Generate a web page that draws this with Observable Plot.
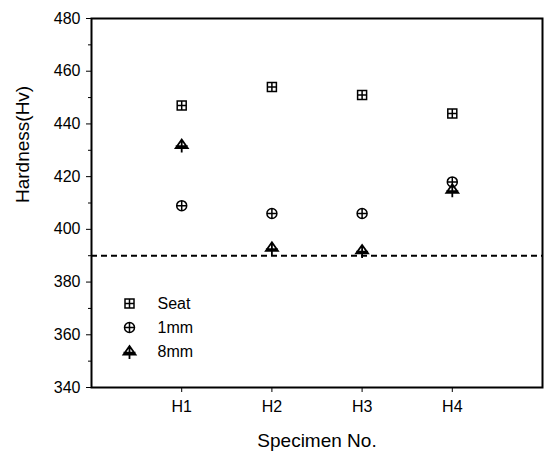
<!DOCTYPE html>
<html><head><meta charset="utf-8">
<script src="https://cdn.jsdelivr.net/npm/d3@7"></script>
<script src="https://cdn.jsdelivr.net/npm/@observablehq/plot@0.6"></script>
<style>body{margin:0;background:#fff}</style>
</head><body><div id="chart"></div>
<script>
const specimens = ["H1", "H2", "H3", "H4"];
const seriesNames = ["Seat", "1mm", "8mm"];
const seat = [447, 454, 451, 444];
const mm1 = [409, 406, 406, 418];
const mm8 = [432, 393, 392, 415];
const threshold = 390;
const yTicks = [340, 360, 380, 400, 420, 440, 460, 480];
const yMinor = [350, 370, 390, 410, 430, 450, 470];

const sqSym = {draw(ctx, size) {
  const r = Math.sqrt(size / Math.PI), h = 0.9 * r;
  ctx.rect(-h, -h, 2 * h, 2 * h);
  ctx.moveTo(-h, 0); ctx.lineTo(h, 0);
  ctx.moveTo(0, -h); ctx.lineTo(0, h);
}};
const circSym = {draw(ctx, size) {
  const r = Math.sqrt(size / Math.PI);
  ctx.moveTo(r, 0); ctx.arc(0, 0, r, 0, 2 * Math.PI);
  ctx.moveTo(-r, 0); ctx.lineTo(r, 0);
  ctx.moveTo(0, -r); ctx.lineTo(0, r);
}};
const triSym = {draw(ctx, size) {
  const r = Math.sqrt(size / Math.PI);
  ctx.moveTo(0, -1.1 * r); ctx.lineTo(1.2 * r, 0.6 * r); ctx.lineTo(-1.2 * r, 0.6 * r); ctx.closePath();
  ctx.moveTo(0, -1.1 * r); ctx.lineTo(0, 1.5 * r);
  ctx.moveTo(-1.2 * r, 0.25 * r); ctx.lineTo(1.2 * r, 0.25 * r);
}};
const syms = [sqSym, circSym, triSym];
const symWidths = [1.5, 1.5, 1.8];
const seriesValues = [seat, mm1, mm8];
const legendDy = [-84, -60, -36];

const marks = [
  Plot.ruleY([threshold], {strokeDasharray: "6,4", strokeWidth: 2}),
  Plot.axisY(yMinor, {tickSize: 3, tickFormat: () => "", label: null}),
  Plot.axisY(yTicks, {tickSize: 5, tickPadding: 6, fontSize: 16, label: null}),
  Plot.axisX([1, 2, 3, 4], {tickFormat: d => specimens[d - 1], tickSize: 5, tickPadding: 8, fontSize: 16, label: null}),
  Plot.text(["Hardness(Hv)"], {frameAnchor: "left", rotate: -90, dx: -69, fontSize: 19}),
  Plot.text(["Specimen No."], {frameAnchor: "bottom", dy: 53, lineAnchor: "middle", fontSize: 19}),
  Plot.frame({strokeWidth: 2})
];
seriesValues.forEach((vals, s) => {
  marks.push(Plot.dot(specimens, {x: (d, i) => i + 1, y: (d, i) => vals[i], symbol: syms[s], r: 5, stroke: "black", strokeWidth: symWidths[s]}));
  marks.push(Plot.dot([seriesNames[s]], {frameAnchor: "bottom-left", dx: 38, dy: legendDy[s], symbol: syms[s], r: 5, stroke: "black", strokeWidth: symWidths[s]}));
  marks.push(Plot.text([seriesNames[s]], {frameAnchor: "bottom-left", dx: 66, dy: legendDy[s], textAnchor: "start", lineAnchor: "middle", fontSize: 16}));
});

const chart = Plot.plot({
  width: 547, height: 454,
  marginLeft: 91, marginRight: 5, marginTop: 18, marginBottom: 67,
  x: {domain: [0, 5]},
  y: {domain: [340, 480]},
  style: {fontFamily: "'Liberation Sans', Arial, sans-serif", background: "white", color: "black"},
  marks
});
document.getElementById("chart").appendChild(chart);
</script>
</body></html>
